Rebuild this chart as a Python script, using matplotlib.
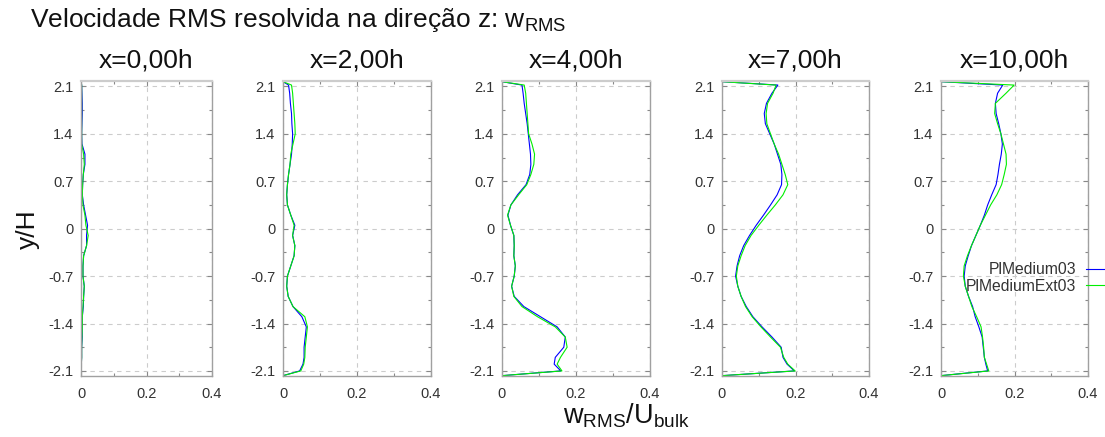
import numpy as np
import matplotlib
matplotlib.use("Agg")
import matplotlib.pyplot as plt
from matplotlib.ticker import MultipleLocator, FixedLocator

plt.rcParams['font.family'] = ['Liberation Sans', 'DejaVu Sans']
plt.rcParams['mathtext.fontset'] = 'custom'
plt.rcParams['mathtext.rm'] = 'Liberation Sans'
plt.rcParams['mathtext.it'] = 'Liberation Sans:italic'

# Perfis de w_RMS/U_bulk ao longo de y/H para cada estação x/h
y_H = [2.17, 2.12, 2.0, 1.85, 1.7, 1.55, 1.4, 1.25, 1.1, 0.95, 0.8, 0.65, 0.5,
       0.35, 0.2, 0.05, -0.1, -0.25, -0.4, -0.55, -0.7, -0.85, -1.0, -1.15,
       -1.3, -1.45, -1.6, -1.75, -1.9, -2.0, -2.1, -2.17]

estacoes = ["x=0,00h", "x=2,00h", "x=4,00h", "x=7,00h", "x=10,00h"]

medium_x0 = [0, 0.002, 0.003, 0.004, 0.004, 0.003, 0.002, 0.003, 0.012, 0.012, 0.007, 0.005, 0.004, 0.008, 0.014, 0.020,
             0.017, 0.017, 0.008, 0.006, 0.006, 0.010, 0.008, 0.007, 0.004, 0.004, 0.004, 0.002, 0.002, 0.001, 0.001, 0]
ext_x0 = [0, 0.002, 0.002, 0.002, 0.002, 0.002, 0.002, 0.002, 0.008, 0.010, 0.007, 0.005, 0.004, 0.006, 0.012, 0.015,
          0.022, 0.017, 0.008, 0.006, 0.006, 0.010, 0.008, 0.006, 0.004, 0.004, 0.003, 0.002, 0.002, 0.001, 0.001, 0]

medium_x2 = [0, 0.015, 0.018, 0.020, 0.023, 0.024, 0.026, 0.025, 0.023, 0.019, 0.015, 0.012, 0.010, 0.012, 0.021, 0.032,
             0.026, 0.032, 0.030, 0.021, 0.012, 0.010, 0.014, 0.027, 0.051, 0.063, 0.060, 0.057, 0.057, 0.054, 0.045, 0]
ext_x2 = [0, 0.023, 0.026, 0.028, 0.030, 0.032, 0.033, 0.027, 0.021, 0.019, 0.015, 0.012, 0.010, 0.012, 0.021, 0.030,
          0.026, 0.032, 0.030, 0.021, 0.012, 0.010, 0.014, 0.027, 0.059, 0.066, 0.063, 0.060, 0.059, 0.056, 0.048, 0]

medium_x4 = [0, 0.054, 0.057, 0.060, 0.064, 0.068, 0.071, 0.074, 0.077, 0.078, 0.075, 0.065, 0.042, 0.024, 0.016, 0.023,
             0.032, 0.033, 0.032, 0.036, 0.033, 0.026, 0.033, 0.059, 0.104, 0.149, 0.171, 0.167, 0.144, 0.141, 0.159, 0]
ext_x4 = [0, 0.060, 0.064, 0.066, 0.068, 0.070, 0.072, 0.081, 0.088, 0.086, 0.078, 0.067, 0.045, 0.024, 0.015, 0.023,
          0.032, 0.033, 0.032, 0.036, 0.033, 0.026, 0.032, 0.054, 0.096, 0.144, 0.171, 0.176, 0.158, 0.149, 0.162, 0]

medium_x7 = [0, 0.152, 0.136, 0.121, 0.115, 0.118, 0.130, 0.142, 0.151, 0.160, 0.163, 0.162, 0.150, 0.132, 0.113, 0.093,
             0.075, 0.059, 0.048, 0.041, 0.037, 0.043, 0.052, 0.066, 0.084, 0.109, 0.136, 0.161, 0.166, 0.177, 0.197, 0]
ext_x7 = [0, 0.147, 0.139, 0.124, 0.120, 0.122, 0.132, 0.142, 0.154, 0.163, 0.172, 0.179, 0.166, 0.145, 0.122, 0.100,
          0.079, 0.063, 0.052, 0.043, 0.039, 0.043, 0.052, 0.064, 0.082, 0.106, 0.132, 0.159, 0.168, 0.179, 0.199, 0]

medium_x10 = [0, 0.168, 0.154, 0.148, 0.150, 0.157, 0.163, 0.167, 0.164, 0.159, 0.155, 0.150, 0.138, 0.127, 0.118, 0.107,
              0.095, 0.083, 0.074, 0.066, 0.063, 0.066, 0.075, 0.086, 0.093, 0.103, 0.112, 0.115, 0.118, 0.122, 0.127, 0]
ext_x10 = [0, 0.199, 0.177, 0.148, 0.146, 0.154, 0.163, 0.170, 0.177, 0.178, 0.172, 0.165, 0.152, 0.135, 0.121, 0.107,
           0.095, 0.083, 0.072, 0.063, 0.061, 0.066, 0.075, 0.084, 0.097, 0.109, 0.113, 0.116, 0.118, 0.124, 0.130, 0]

medium = [medium_x0, medium_x2, medium_x4, medium_x7, medium_x10]
ext = [ext_x0, ext_x2, ext_x4, ext_x7, ext_x10]

W, H = 1105, 437
fig = plt.figure(figsize=(W / 100, H / 100), dpi=100)

# limites horizontais de cada painel (px)
paineis = [(81, 212), (283, 431), (502, 650), (722, 869), (941, 1088)]
topo, base = 81, 376

cinza = '#333333'
for k, (x0, x1) in enumerate(paineis):
    ax = fig.add_axes([x0 / W, 1 - base / H, (x1 - x0) / W, (base - topo) / H])
    l1, = ax.plot(medium[k], y_H, color='#0000ff', lw=0.8, label='PlMedium03')
    l2, = ax.plot(ext[k], y_H, color='#00ee00', lw=0.8, label='PlMediumExt03')
    ax.set_xlim(0, 0.4)
    ax.set_ylim(-2.175, 2.18)
    ax.xaxis.set_major_locator(FixedLocator([0, 0.2, 0.4]))
    ax.xaxis.set_minor_locator(FixedLocator([0.1, 0.3]))
    ax.yaxis.set_major_locator(FixedLocator([-2.1, -1.4, -0.7, 0, 0.7, 1.4, 2.1]))
    ax.yaxis.set_minor_locator(FixedLocator([-1.75, -1.05, -0.35, 0.35, 1.05, 1.75]))
    ax.set_xticklabels(['0', '0.2', '0.4'])
    ax.set_yticklabels(['-2.1', '-1.4', '-0.7', '0', '0.7', '1.4', '2.1'])
    ax.tick_params(which='both', direction='in', top=True, right=True, color='#888888', width=0.8)
    ax.tick_params(which='major', length=3.5, labelsize=10.5, labelcolor=cinza)
    ax.tick_params(which='minor', length=2.5)
    ax.tick_params(axis='y', pad=5.5)
    ax.tick_params(axis='x', pad=8)
    ax.grid(True, which='major', color='#cccccc', linestyle=(0, (4, 4)), lw=0.8)
    ax.set_axisbelow(True)
    for s in ax.spines.values():
        s.set_color('#a0a0a0')
        s.set_linewidth(1.0)
    ax.spines['top'].set_color('#cccccc')
    ax.spines['top'].set_linewidth(1.6)
    ax.set_title(estacoes[k], fontsize=19, color='#111111', pad=10)

fig.text(30 / W, 1 - 27 / H, 'Velocidade RMS resolvida na direção z: w$_{\\mathrm{RMS}}$',
         fontsize=19, color='#111111', ha='left', va='baseline')
fig.text(563 / W, 1 - 424 / H, 'w$_{\\mathrm{RMS}}$/U$_{\\mathrm{bulk}}$',
         fontsize=19.5, color='#111111', ha='left', va='baseline')
fig.text(28 / W, 1 - 229 / H, 'y/H', fontsize=19, color='#111111', rotation=90,
         ha='center', va='center')

fig.legend(handles=[l1, l2], loc='upper right', bbox_to_anchor=(1117 / W, 1 - 262 / H),
           frameon=False, markerfirst=False, fontsize=11.3, handlelength=2.0,
           handletextpad=0.6, labelspacing=0.1, borderpad=0, borderaxespad=0,
           labelcolor=cinza)

fig.savefig('out.png', dpi=100)
